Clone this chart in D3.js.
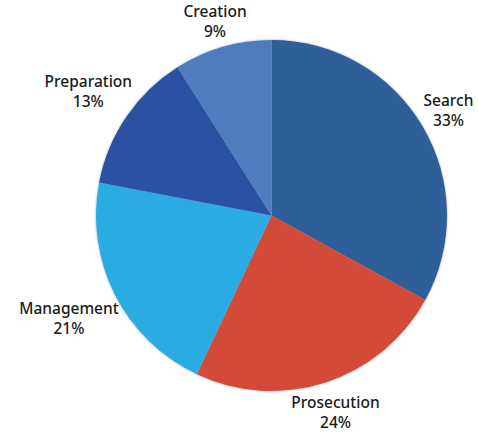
<!DOCTYPE html>
<html>
<head>
<meta charset="utf-8">
<script src="https://cdn.jsdelivr.net/npm/d3@7/dist/d3.min.js"></script>
<style>
  html, body { margin: 0; padding: 0; background: #ffffff; }
  svg { display: block; }
  text { font-family: "Noto Sans", "Open Sans", sans-serif; fill: #1a1a1a; }
</style>
</head>
<body>
<svg id="chart" width="478" height="433"></svg>
<script>
// Share of effort by stage, clockwise from 12 o'clock
const categories = ["Search", "Prosecution", "Management", "Preparation", "Creation"];
const values = [33, 24, 21, 13, 9];
const colors = ["#2f5f98", "#d34b39", "#2aabe2", "#2a51a2", "#4f7cbf"];

const width = 478, height = 433;
const cx = 271.5, cy = 215.5, radius = 175.5;

const svg = d3.select("#chart");

const defs = svg.append("defs");
const shadow = defs.append("filter").attr("id", "soft-shadow")
  .attr("x", "-10%").attr("y", "-10%").attr("width", "120%").attr("height", "120%");
shadow.append("feDropShadow").attr("dx", 0).attr("dy", 0)
  .attr("stdDeviation", 1).attr("flood-color", "#000").attr("flood-opacity", 0.35);

const data = categories.map((c, i) => ({ name: c, value: values[i], color: colors[i] }));

const pie = d3.pie().value(d => d.value).sort(null);
const arc = d3.arc().innerRadius(0).outerRadius(radius);

const g = svg.append("g").attr("transform", `translate(${cx},${cy})`);

const slices = pie(data);

g.append("g").attr("filter", "url(#soft-shadow)")
  .selectAll("path")
  .data(slices)
  .join("path")
  .attr("d", arc)
  .attr("fill", d => d.data.color);

// Labels sit outside each slice on its mid-angle, pushed out far enough to clear the rim
const labelGroups = g.append("g").selectAll("g")
  .data(slices)
  .join("g");

const fontSize = 15.5, lineGap = 20;

labelGroups.append("text")
  .attr("text-anchor", "middle")
  .attr("y", -lineGap / 2 + fontSize * 0.36)
  .style("font-size", fontSize + "px")
  .style("font-weight", 500)
  .text(d => d.data.name);

labelGroups.append("text")
  .attr("text-anchor", "middle")
  .attr("y", lineGap / 2 + fontSize * 0.36)
  .style("font-size", fontSize + "px")
  .style("font-weight", 500)
  .text(d => d.data.value + "%");

labelGroups.each(function(d) {
  const bb = this.getBBox();
  const a = (d.startAngle + d.endAngle) / 2;
  const s = Math.sin(a), c = Math.cos(a);
  const dist = radius - 2
    + Math.abs(s) * bb.width / 2 + Math.abs(c) * bb.height / 2;
  d3.select(this).attr("transform", `translate(${s * dist},${-c * dist})`);
});
</script>
</body>
</html>
